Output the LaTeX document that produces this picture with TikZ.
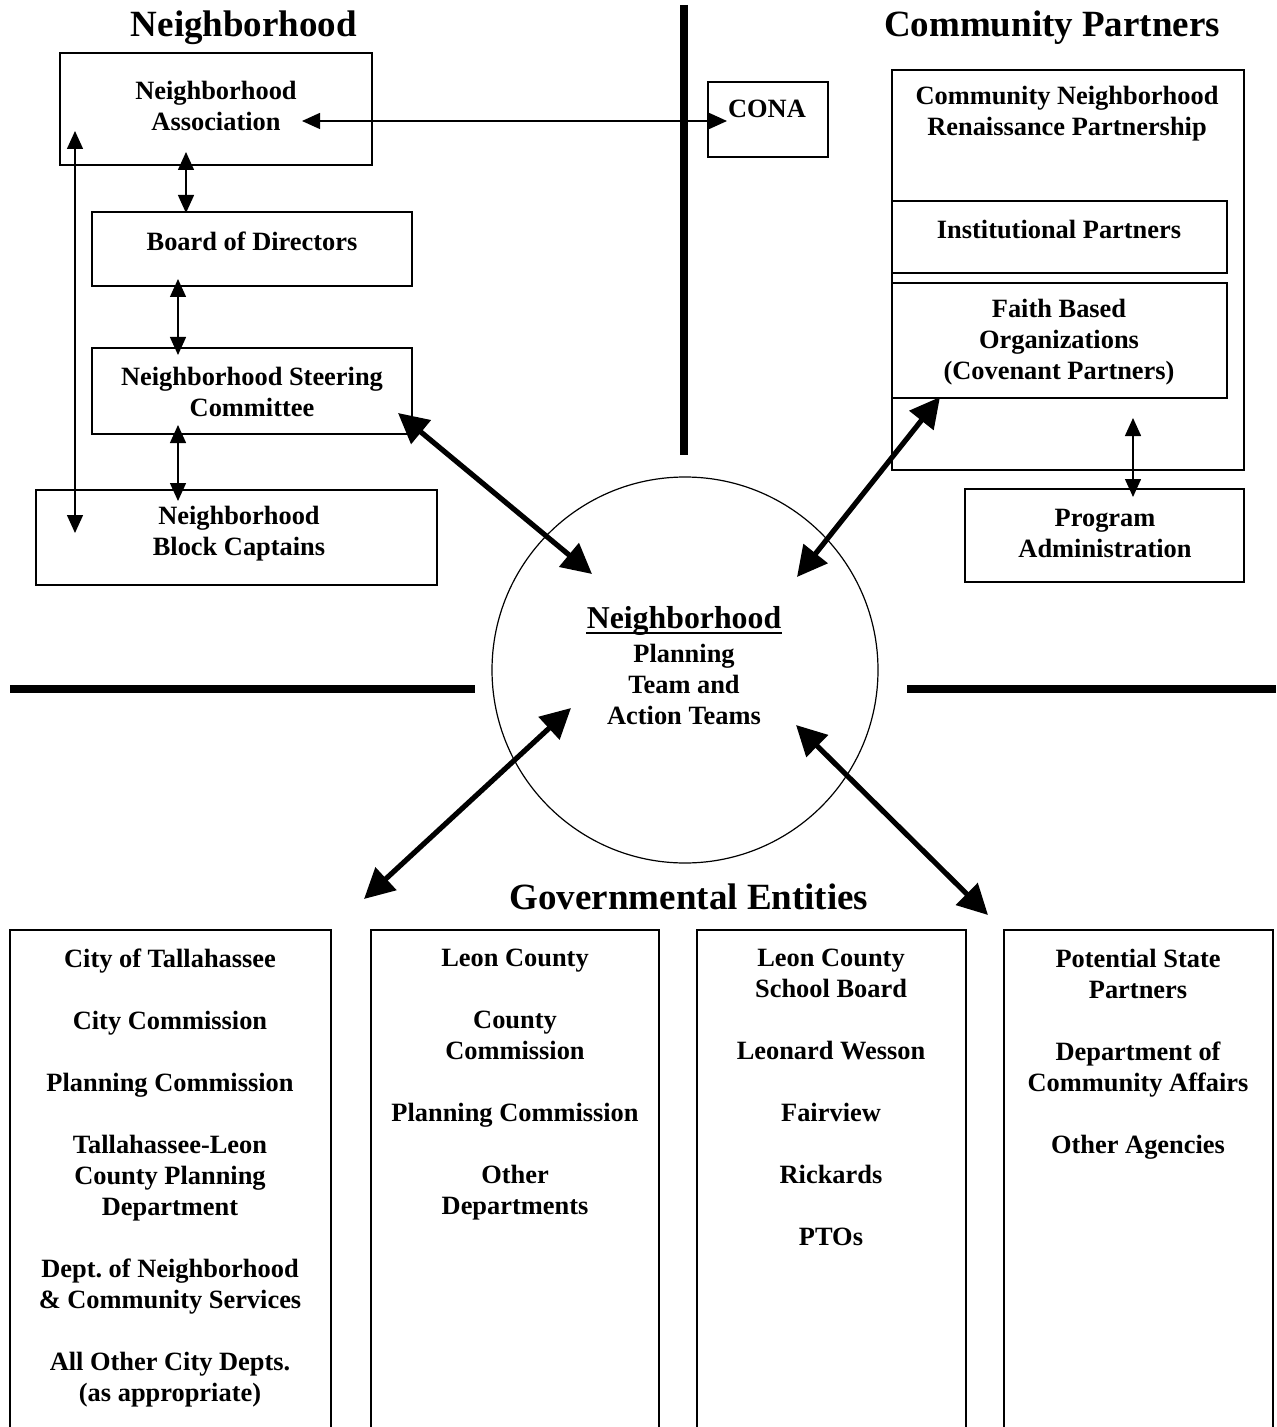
\documentclass[tikz,border=0pt]{standalone}
\usepackage{fontspec}
\setmainfont{Liberation Serif}
\usetikzlibrary{arrows.meta}
\frenchspacing
\newcommand\bodyf{\fontsize{13.2}{15.5}\selectfont\bfseries}
\newcommand\headf{\fontsize{18.5}{22}\selectfont\bfseries}
\newcommand\circf{\fontsize{15.9}{19}\selectfont\bfseries}
\begin{document}
\begin{tikzpicture}[x=0.5pt,y=-0.5pt,
  box/.style={draw, line width=0.75pt, inner sep=0pt},
  txt/.style={font=\bodyf, align=center, inner sep=0pt},
  headtxt/.style={font=\headf, inner sep=0pt},
  tarrow/.style={line width=0.7pt, {Triangle[length=9pt,width=8pt]}-{Triangle[length=9pt,width=8pt]}},
  barrow/.style={line width=2.6pt, {Triangle[length=15pt,width=15pt]}-{Triangle[length=15pt,width=15pt]}},
  sepline/.style={line width=4pt}]
\clip (0,0) rectangle (1276,1427);
\fill[white] (0,0) rectangle (1276,1427);

% headings
\node[headtxt] (hN) at (244,28) {Neighborhood};
\node[headtxt] (hC) at (1052,28) {Community Partners};
\node[headtxt] (hG) at (689,897) {Governmental Entities};

% separator lines
\draw[sepline] (684,5) -- (684,455);
\draw[sepline] (10,689) -- (475,689);
\draw[sepline] (907,689) -- (1276,689);

% neighborhood boxes
\node[box, minimum width=156pt, minimum height=56pt] (na) at (216,109) {};
\node[txt] (nat) at (216,106) {Neighborhood\\Association};
\node[box, minimum width=160pt, minimum height=37pt] (bod) at (252,249) {};
\node[txt] (bodt) at (252,241) {Board of Directors};
\node[box, minimum width=160pt, minimum height=43pt] (nsc) at (252,391) {};
\node[txt] (nsct) at (252,392) {Neighborhood Steering\\Committee};
\node[box, minimum width=200.5pt, minimum height=47.5pt] (nbc) at (236.5,537.5) {};
\node[txt] (nbct) at (239,534) {Neighborhood\\Block Captains};

% CONA
\node[box, minimum width=60pt, minimum height=37.5pt] (cona) at (768,119.5) {};
\node[txt] (conat) at (767,109) {CONA};

% community partners
\node[box, minimum width=176pt, minimum height=200pt] (cnrp) at (1068,270) {};
\node[txt] (cnrpt) at (1067,114) {Community Neighborhood\\Renaissance Partnership};
\node[box, minimum width=167.5pt, minimum height=36pt] (inst) at (1059.5,237) {};
\node[txt] (instt) at (1059,230) {Institutional Partners};
\node[box, minimum width=167.5pt, minimum height=57.5pt] (fbo) at (1059.5,340.5) {};
\node[txt] (fbot) at (1059,342) {Faith Based\\Organizations\\(Covenant Partners)};
\node[box, minimum width=139.5pt, minimum height=46.5pt] (prog) at (1104.5,535.5) {};
\node[txt] (progt) at (1105,533) {Program\\Administration};

% circle
\node[draw, circle, line width=0.6pt, minimum size=193pt, inner sep=0pt] (circ) at (685,670) {};
\node[font=\circf, inner sep=0pt] (circh) at (684,621) {Neighborhood};
\draw[line width=1.3pt] ([yshift=-2.2pt]circh.base west) -- ([yshift=-2.2pt]circh.base east);
\node[txt] (circt) at (684,684) {Planning\\Team and\\Action Teams};

% governmental boxes
\node[box, anchor=north, minimum width=160.5pt, minimum height=260pt] (g1) at (170.5,929) {};
\node[txt, anchor=north] (g1t) at (170,948) {City of Tallahassee\\[15.5pt]City Commission\\[15.5pt]Planning Commission\\[15.5pt]Tallahassee-Leon\\County Planning\\Department\\[15.5pt]Dept. of Neighborhood\\\& Community Services\\[15.5pt]All Other City Depts.\\(as appropriate)};
\node[box, anchor=north, minimum width=144pt, minimum height=260pt] (g2) at (515,929) {};
\node[txt, anchor=north] (g2t) at (515,949) {Leon County\\[15.5pt]County\\Commission\\[15.5pt]Planning Commission\\[15.5pt]Other\\Departments};
\node[box, anchor=north, minimum width=134.5pt, minimum height=260pt] (g3) at (831.5,929) {};
\node[txt, anchor=north] (g3t) at (831,949) {Leon County\\School Board\\[15.5pt]Leonard Wesson\\[15.5pt]Fairview\\[15.5pt]Rickards\\[15.5pt]PTOs};
\node[box, anchor=north, minimum width=134.5pt, minimum height=260pt] (g4) at (1138.5,929) {};
\node[txt, anchor=north] (g4t) at (1138,949) {Potential State\\Partners\\[15.5pt]Department of\\Community Affairs\\[15.5pt]Other Agencies};

% connector end points
\coordinate (naR) at (302,121);
\coordinate (conaL) at (727,121);
\coordinate (naB) at (186,152);
\coordinate (bodT) at (186,213);
\coordinate (bodB) at (178,279);
\coordinate (nscT) at (178,355);
\coordinate (nscB) at (178,425);
\coordinate (nbcT) at (178,501);
\coordinate (naL) at (75,131);
\coordinate (nbcL) at (75,533);
\coordinate (fboB) at (1133,418);
\coordinate (progT) at (1133,497);
\coordinate (nscE) at (398,413);
\coordinate (circNW) at (592,574);
\coordinate (cnrpE) at (940,397);
\coordinate (circNE) at (797,577);
\coordinate (circSW) at (571,708);
\coordinate (g1E) at (364,899);
\coordinate (circSE) at (796,725);
\coordinate (g4E) at (988,915);

% thin arrows
\draw[tarrow] (naR) -- (conaL);
\draw[tarrow] (naB) -- (bodT);
\draw[tarrow] (bodB) -- (nscT);
\draw[tarrow] (nscB) -- (nbcT);
\draw[tarrow] (naL) -- (nbcL);
\draw[tarrow] (fboB) -- (progT);

% bold arrows
\draw[barrow] (nscE) -- (circNW);
\draw[barrow] (cnrpE) -- (circNE);
\draw[barrow] (circSW) -- (g1E);
\draw[barrow] (circSE) -- (g4E);
\end{tikzpicture}
\end{document}
